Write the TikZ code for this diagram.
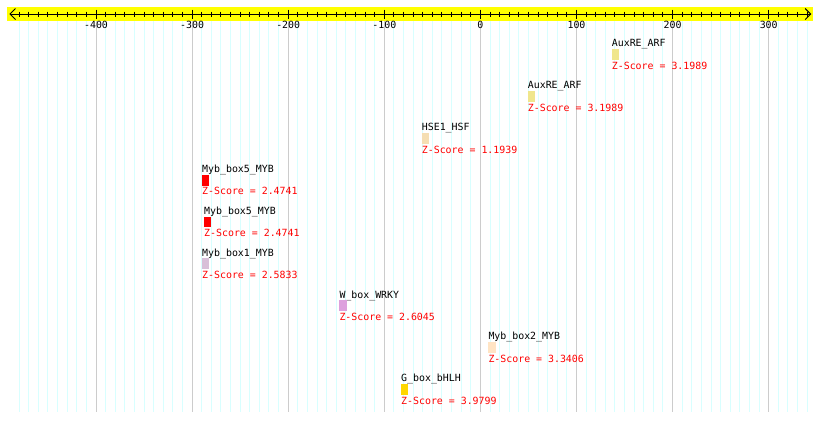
\documentclass[tikz,border=0pt]{standalone}
\usepackage{fontspec}
\setmonofont{DejaVu Sans Mono}
\definecolor{gridcyan}{HTML}{D8FFFF}
\definecolor{gridgrey}{HTML}{CCCCCC}
\definecolor{baryellow}{HTML}{FFFF00}
\definecolor{zred}{HTML}{FF0000}
\definecolor{cKhaki}{HTML}{F0E68C}
\definecolor{cWheat}{HTML}{F5DEB3}
\definecolor{cRed}{HTML}{FF0000}
\definecolor{cThistle}{HTML}{D8BFD8}
\definecolor{cPlum}{HTML}{DDA0DD}
\definecolor{cBisque}{HTML}{FFE4C4}
\definecolor{cGold}{HTML}{FFD700}
\tikzset{
  lbl/.style={anchor=base west, inner sep=0pt, font=\ttfamily\fontsize{9.9}{10}\selectfont, text=black},
  zlbl/.style={anchor=base west, inner sep=0pt, font=\ttfamily\fontsize{9.9}{10}\selectfont, text=zred},
  ticklbl/.style={anchor=base, inner sep=0pt, font=\ttfamily\fontsize{9.9}{10}\selectfont, text=black},
  sitebox/.style={draw=none},
  axisline/.style={line width=1pt, black},
}
\begin{document}
\begin{tikzpicture}[x=1pt,y=-1pt]
\useasboundingbox (0,0) rectangle (820,421);
\fill[white] (0,0) rectangle (820,421);
% grid
\foreach \u in {-480,-470,...,340}{
  \pgfmathsetmacro{\px}{480.4+0.961*\u}
  \draw[gridcyan, line width=1pt] (\px,21) -- (\px,411.7);
}
\foreach \u in {-400,-300,...,300}{
  \pgfmathsetmacro{\px}{480.4+0.961*\u}
  \draw[gridgrey, line width=1pt] (\px,21) -- (\px,411.7);
}
% yellow bar
\fill[baryellow] (7,7) rectangle (813.3,20.8);
\coordinate (axL) at (10,14);
\coordinate (axR) at (810.7,14);
\draw[axisline] (axL) -- (axR);
\draw[axisline] (15.5,8.5) -- (axL) -- (15.5,19.5);
\draw[axisline] (805.2,8.5) -- (axR) -- (805.2,19.5);
\foreach \u in {-480,-470,...,340}{
  \pgfmathsetmacro{\px}{480.4+0.961*\u}
  \draw[axisline] (\px,11.5) -- (\px,16.8);
}
\foreach \u in {-400,-300,...,300}{
  \pgfmathsetmacro{\px}{480.4+0.961*\u}
  \draw[axisline] (\px,9.5) -- (\px,18.5);
  \node[ticklbl] (t\u) at (\px,28) {\u};
}
% sites
\foreach \i/\x/\name/\col/\z in {
  0/611.7/AuxRE\_ARF/cKhaki/3.1989,
  1/527.7/AuxRE\_ARF/cKhaki/3.1989,
  2/421.7/HSE1\_HSF/cWheat/1.1939,
  3/202.0/Myb\_box5\_MYB/cRed/2.4741,
  4/204.0/Myb\_box5\_MYB/cRed/2.4741,
  5/202.0/Myb\_box1\_MYB/cThistle/2.5833,
  6/339.3/W\_box\_WRKY/cPlum/2.6045,
  7/488.3/Myb\_box2\_MYB/cBisque/3.3406,
  8/401.0/G\_box\_bHLH/cGold/3.9799}{
  \pgfmathsetmacro{\yy}{43.3+41.87*\i}
  \node[lbl] (name\i) at (\x,\yy+3.6) {\name};
  \fill[\col] (\x,\yy+5.8) rectangle (\x+7.4,\yy+16.6);
  \node[zlbl] (z\i) at (\x,\yy+26) {Z-Score = \z};
}
\end{tikzpicture}
\end{document}
